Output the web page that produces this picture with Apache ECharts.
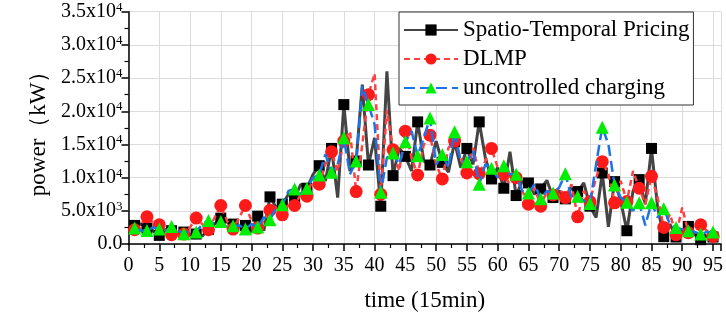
<!DOCTYPE html>
<html>
<head>
<meta charset="utf-8">
<script src="https://cdn.jsdelivr.net/npm/echarts@6/dist/echarts.min.js"></script>
<style>html,body{margin:0;padding:0;background:#fff}#c{width:726px;height:317px}</style>
</head>
<body>
<div id="c"></div>
<script>
// time index 1..96 (15 min slots)
var times = [];
for (var i = 1; i <= 96; i++) times.push(i);

var seriesNames = ['Spatio-Temporal Pricing', 'DLMP', 'uncontrolled charging'];

var spatioTemporal = [
 2800,3000,2400,2000,1300,2200,2000,1600,1800,1400,1500,1200,2200,3000,3900,3300,3000,2600,2800,1800,
 4200,2000,7100,5500,6000,7500,6900,9000,8400,10500,11800,9500,14400,7000,21000,11000,12500,24000,11900,16000,
 5700,26000,10300,14500,13200,11000,18400,12500,11900,15500,12300,10800,15400,11500,14400,12000,18400,13000,9800,11500,
 8400,13900,7300,9500,9200,7500,8300,9600,7000,8000,6800,8500,7900,9200,5700,4000,10700,2600,9400,6500,
 2000,8000,9700,6000,14400,5500,1100,3000,1050,2000,2650,1500,650,1200,1050,1000
];

var dlmp = [
 2150,3000,4100,3200,2900,2000,1400,2000,1500,2500,3900,3000,2150,4000,5800,3500,2250,4000,5800,3500,
 2400,3500,5100,5500,4400,6000,5800,7500,7200,10000,9000,12000,13900,11000,15500,17000,7900,15000,22500,25700,
 7500,20200,14200,11000,17000,13000,10400,15000,16400,12000,9800,14500,15500,13000,10700,14500,10600,12500,14400,11500,
 10500,9000,10000,8000,6000,8500,5700,8000,7400,8500,7000,9000,4100,8000,6400,10000,12400,10500,6200,9500,
 6400,11000,8400,6000,10200,7000,2500,4500,1400,5500,1700,2500,2900,2000,1150,1500
];

var uncontrolled = [
 2400,2000,2050,2500,2250,2000,2650,2000,1550,2000,1800,3000,3550,3000,3400,2500,2750,2800,2250,3000,
 2550,4000,3650,5500,5900,8000,8300,7500,8400,10000,10400,13500,10800,12000,16000,10500,12500,23800,21000,18000,
 7800,13000,13700,12000,15400,17000,13300,16000,19000,12000,13500,11500,16900,12500,12400,14000,9000,12000,11400,10000,
 11800,10500,10500,8000,7700,9000,6800,8000,7700,8500,10600,7000,7200,6500,6100,12000,17600,15000,8900,7000,
 6300,5000,6200,2800,6200,4000,5300,3000,2500,2200,2000,1800,1500,1800,1800,1600
];

var xTicks = [0,5,10,15,20,25,30,35,40,45,50,55,60,65,70,75,80,85,90,95];

function build(vals) {
  return vals.map(function (v, i) {
    var item = { value: [times[i], v] };
    if (i % 2 === 1) item.symbol = 'none';
    return item;
  });
}

var serif = '"Liberation Serif","Times New Roman",serif';

function yFmt(v) {
  if (v === 0) return '{b|0.0}';
  var e = Math.floor(Math.log10(v) + 1e-9);
  var m = v / Math.pow(10, e);
  return '{b|' + m.toFixed(1) + 'x10}{s|' + e + '}';
}

var chart = echarts.init(document.getElementById('c'));
chart.setOption({
  animation: false,
  backgroundColor: '#fff',
  grid: { left: 128.5, right: 4, top: 11.7, bottom: 72.7, containLabel: false },
  xAxis: {
    type: 'value', min: 0, max: 96.3, interval: 5,
    name: 'time (15min)', nameLocation: 'middle', nameGap: 45,
    nameTextStyle: { fontFamily: serif, fontSize: 23, color: '#000' },
    axisLine: { show: true, onZero: false, lineStyle: { color: '#000', width: 1.5 } },
    axisTick: { show: true, inside: false, length: 7, lineStyle: { color: '#000', width: 1.5 } },
    minorTick: { show: true, splitNumber: 2, length: 4, lineStyle: { color: '#000', width: 1.2 } },
    axisLabel: { fontFamily: serif, fontSize: 20, color: '#000', margin: 12, showMaxLabel: false,
      formatter: function (v) { return xTicks.indexOf(v) >= 0 ? String(v) : ''; } },
    splitLine: { show: true, lineStyle: { color: '#dcdcdc', width: 1 } }
  },
  yAxis: {
    type: 'value', min: 0, max: 35000, interval: 5000,
    name: 'power（kW）', nameLocation: 'middle', nameGap: 78, nameRotate: 90,
    nameTextStyle: { fontFamily: serif, fontSize: 23, color: '#000' },
    axisLine: { show: true, lineStyle: { color: '#000', width: 1.5 } },
    axisTick: { show: true, inside: false, length: 7, lineStyle: { color: '#000', width: 1.5 } },
    minorTick: { show: true, splitNumber: 2, length: 4, lineStyle: { color: '#000', width: 1.2 } },
    axisLabel: { margin: 6, formatter: yFmt,
      rich: {
        b: { fontFamily: serif, fontSize: 20, color: '#000', lineHeight: 22 },
        s: { fontFamily: serif, fontSize: 13, color: '#000', verticalAlign: 'top', lineHeight: 22, padding: [0,0,8,0] }
      } },
    splitLine: { show: true, lineStyle: { color: '#dcdcdc', width: 1 } }
  },
  legend: {
    orient: 'vertical', left: 399, top: 12,
    data: seriesNames,
    backgroundColor: '#fff', borderColor: '#333', borderWidth: 1,
    padding: [6, 4, 5, 4], itemGap: 5, itemWidth: 54, itemHeight: 14,
    textStyle: { fontFamily: serif, fontSize: 23, color: '#000', lineHeight: 24 }
  },
  series: [
    { name: seriesNames[0], type: 'line', data: build(spatioTemporal), showAllSymbol: true,
      symbol: 'rect', symbolSize: 11, z: 2,
      itemStyle: { color: '#000' },
      lineStyle: { color: '#444', width: 3 } },
    { name: seriesNames[1], type: 'line', data: build(dlmp), showAllSymbol: true,
      symbol: 'circle', symbolSize: 13, z: 3,
      itemStyle: { color: '#ff1a1a' },
      lineStyle: { color: '#ff4040', width: 2.5, type: [6, 4] } },
    { name: seriesNames[2], type: 'line', data: build(uncontrolled), showAllSymbol: true,
      symbol: 'triangle', symbolSize: 13, z: 4,
      itemStyle: { color: '#00ee00' },
      lineStyle: { color: '#1a73e8', width: 2.5, type: [11, 5] } }
  ]
});
</script>
</body>
</html>
